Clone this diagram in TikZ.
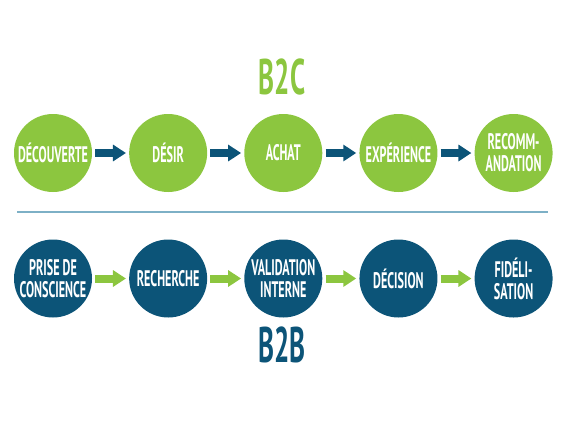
\documentclass[tikz,border=0pt]{standalone}
\usepackage{fontspec}
\newfontfamily\stepfont[FakeStretch=0.54]{PT Sans}
\usetikzlibrary{arrows.meta,positioning}
\definecolor{stepgreen}{HTML}{8CC63F}
\definecolor{stepblue}{HTML}{0C5478}
\definecolor{rulecol}{HTML}{7DB0C6}
\tikzset{
  every node/.append style={font=\stepfont\bfseries},
}
\begin{document}
\begin{tikzpicture}[
  x=1pt, y=-1pt,
  % --- Step circles ---
  greenstep/.style={circle, fill=stepgreen, draw=none, minimum size=78pt, inner sep=0pt,
    text=white, align=center, font=\stepfont\bfseries\fontsize{22.5}{22}\selectfont},
  bluestep/.style={greenstep, fill=stepblue},
  % --- Connectors ---
  bluearrow/.style={draw=stepblue, line width=8pt, shorten <=3pt, shorten >=3pt,
    -{Triangle[length=13pt, width=16pt]}},
  greenarrow/.style={bluearrow, draw=stepgreen},
  title/.style={font=\stepfont\bfseries\fontsize{50}{50}\selectfont},
  sepline/.style={draw=rulecol, line width=1.6pt},
]
\useasboundingbox (0,0) rectangle (565,424);

% --- B2C row ---
\node[title, text=stepgreen] (b2c) at (282,77) {B2C};
\node[greenstep] (decouverte) at (53,153) {DÉCOUVERTE};
\node[greenstep, right=36.75pt of decouverte] (desir) {DÉSIR};
\node[greenstep, right=36.75pt of desir] (achat) {ACHAT};
\node[greenstep, right=36.75pt of achat] (experience) {EXPÉRIENCE};
\node[greenstep, right=36.75pt of experience] (recommandation) {RECOMM-\\ANDATION};

\draw[bluearrow] (decouverte) -- (desir);
\draw[bluearrow] (desir) -- (achat);
\draw[bluearrow] (achat) -- (experience);
\draw[bluearrow] (experience) -- (recommandation);

% --- Separator ---
\coordinate (ruleL) at (17,212);
\coordinate (ruleR) at (548,212);
\draw[sepline] (ruleL) -- (ruleR);

% --- B2B row ---
\node[bluestep] (prise) at (53,278.5) {PRISE DE\\CONSCIENCE};
\node[bluestep, right=36.75pt of prise] (recherche) {RECHERCHE};
\node[bluestep, right=36.75pt of recherche] (validation) {VALIDATION\\INTERNE};
\node[bluestep, right=36.75pt of validation] (decision) {DÉCISION};
\node[bluestep, right=36.75pt of decision] (fidelisation) {FIDÉLI-\\SATION};
\node[title, text=stepblue] (b2b) at (282,345) {B2B};

\draw[greenarrow] (prise) -- (recherche);
\draw[greenarrow] (recherche) -- (validation);
\draw[greenarrow] (validation) -- (decision);
\draw[greenarrow] (decision) -- (fidelisation);

\end{tikzpicture}
\end{document}
